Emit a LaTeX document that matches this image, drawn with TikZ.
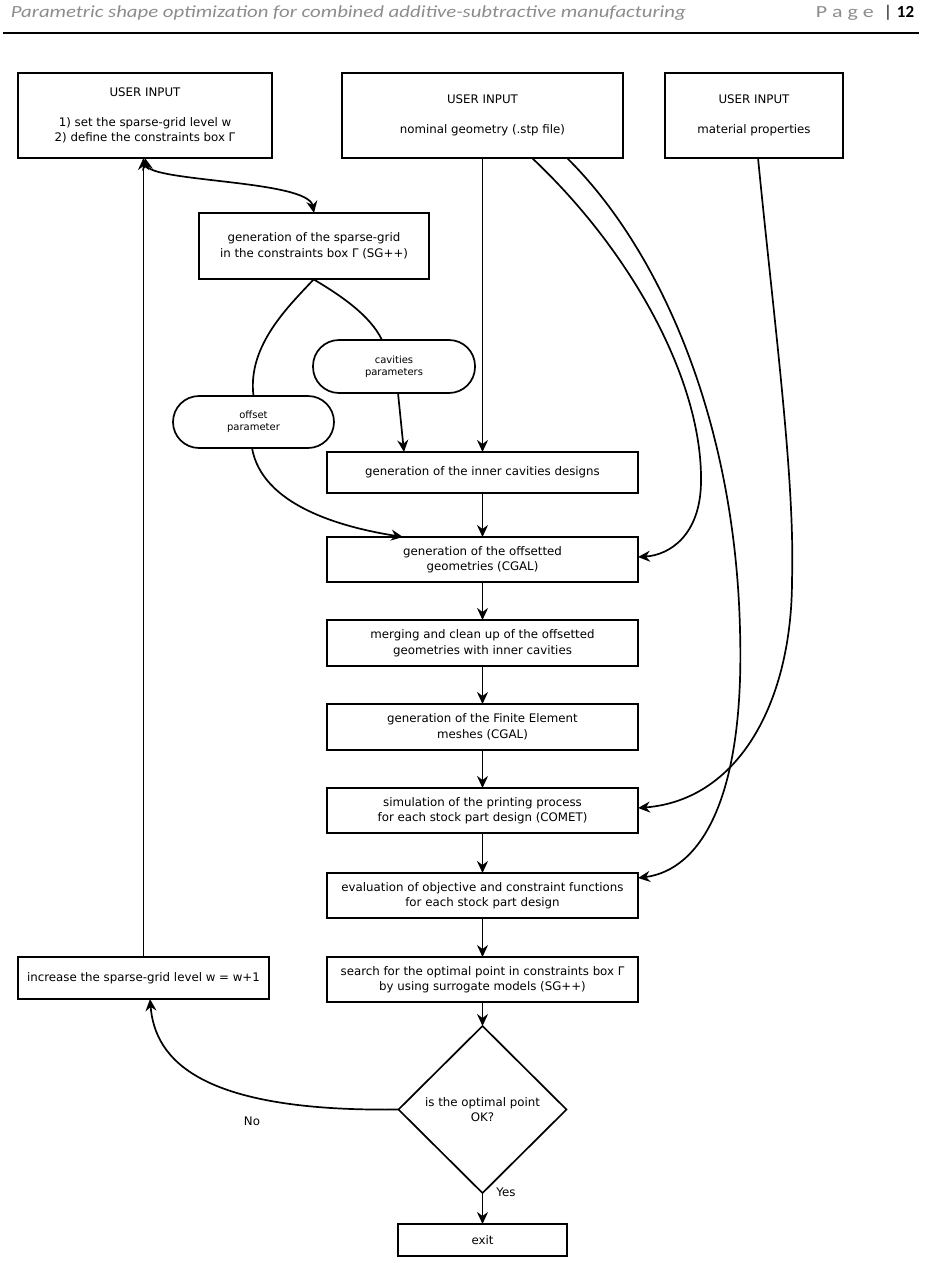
\documentclass[tikz,border=0pt]{standalone}
\usepackage{fontspec}
\setmainfont{DejaVu Sans}
\newfontfamily\hdr{Carlito}
\usetikzlibrary{shapes.geometric,arrows.meta}
\definecolor{hdrgray}{RGB}{140,140,140}
\begin{document}
\begin{tikzpicture}[x=1pt,y=-1pt,
  >={Stealth[length=12pt,width=11pt,inset=4pt]},
  line width=1.7pt,
  boxtxt/.style={font=\fontsize{11.8}{15.5}\selectfont},
  flowbox/.style={draw, line width=1.7pt, boxtxt, align=center, inner sep=0pt, outer sep=0pt},
  mainbox/.style={flowbox, minimum width=311pt, minimum height=46pt},
  pill/.style={draw, line width=1.7pt, rounded corners=26pt, align=center, inner sep=0pt, outer sep=0pt,
     minimum width=161pt, minimum height=53pt, font=\fontsize{10}{12.3}\selectfont},
  conn/.style={line width=1.7pt},
  lbl/.style={boxtxt, inner sep=0pt},
  hdrtxt/.style={inner sep=0pt, font=\hdr\fontsize{17}{20}\selectfont}
]
\useasboundingbox (0,0) rectangle (924,1263);

% header
\node[hdrtxt, anchor=base west, text=hdrgray, font=\hdr\itshape\fontsize{17}{20}\selectfont] (title) at (10,18)
  {\resizebox{675pt}{\height}{Parametric shape optimization for combined additive-subtractive manufacturing}};
\node[hdrtxt, anchor=base west, text=hdrgray] (pagew) at (815,18)
  {\resizebox{58pt}{\height}{P a g e}};
\node[hdrtxt, anchor=base] (bar) at (888,18) {|};
\node[hdrtxt, anchor=base east, font=\hdr\bfseries\fontsize{17}{20}\selectfont] (pagen) at (915,18) {12};
\coordinate (rl) at (3,33);
\coordinate (rr) at (919,33);
\draw[line width=1.2pt] (rl) -- (rr);

% user inputs
\node[flowbox, minimum width=254pt, minimum height=85pt] (ui1) at (145,115.5)
  {USER INPUT\\[14.5pt]1) set the sparse-grid level w\\2) define the constraints box Γ};
\node[flowbox, minimum width=281pt, minimum height=85pt] (ui2) at (482.5,115.5)
  {USER INPUT\\[14.5pt]nominal geometry (.stp file)};
\node[flowbox, minimum width=178pt, minimum height=85pt] (ui3) at (754,115.5)
  {USER INPUT\\[14.5pt]material properties};

% sparse grid
\node[flowbox, minimum width=230pt, minimum height=66pt] (sg) at (314,246)
  {generation of the sparse-grid\\in the constraints box Γ (SG++)};

% pills
\node[pill, minimum width=162pt] (cav) at (394,366.5) {cavities\\parameters};
\node[pill, minimum height=52pt] (off) at (253.5,422) {offset\\parameter};

% main column
\node[mainbox, minimum height=41pt] (inner) at (482.5,472.5) {generation of the inner cavities designs};
\node[mainbox, minimum height=45pt] (offs) at (482.5,559.5) {generation of the offsetted\\geometries (CGAL)};
\node[mainbox] (merge) at (482.5,643) {merging and clean up of the offsetted\\geometries with inner cavities};
\node[mainbox] (fe) at (482.5,727) {generation of the Finite Element\\meshes (CGAL)};
\node[mainbox, minimum height=45pt] (sim) at (482.5,810.5) {simulation of the printing process\\for each stock part design (COMET)};
\node[mainbox, minimum height=45pt] (eval) at (482.5,895.5) {evaluation of objective and constraint functions\\for each stock part design};
\node[mainbox, minimum height=45pt] (search) at (482.5,979.5) {search for the optimal point in constraints box Γ\\by using surrogate models (SG++)};

\node[flowbox, minimum width=251pt, minimum height=42pt] (incr) at (143.5,978) {increase the sparse-grid level w = w+1};

\node[draw, line width=1.7pt, diamond, boxtxt, align=center, inner sep=0pt, outer sep=0pt, aspect=1,
  minimum width=168pt, minimum height=167pt] (dec) at (482.5,1109.5) {is the optimal point\\OK?};
\node[flowbox, minimum width=169pt, minimum height=32pt] (exit) at (482.5,1240) {exit};

\node[lbl] (no) at (252,1121) {No};
\node[lbl] (yes) at (506,1192) {Yes};

% connectors
\draw[conn,<->] (ui1.south) .. controls (150,182) and (308,180) .. (sg.north);
\draw[conn,->] (incr.north) -- (incr.north |- ui1.south);
\draw[conn] (sg.south) .. controls (290,305) and (247,345) .. (off.north);
\draw[conn] ([xshift=-1pt]sg.south) .. controls (340,295) and (370,315) .. ([xshift=-12pt]cav.north);
\draw[conn,->] ([xshift=4pt]cav.south) -- ([xshift=-78.5pt]inner.north);
\draw[conn,->] ([xshift=-1.5pt]off.south) .. controls (262,505) and (340,527) .. ([xshift=-79.5pt]offs.north);
\draw[conn,->] (ui2.south) -- (inner.north);
\draw[conn,->] (inner) -- (offs);
\draw[conn,->] (offs) -- (merge);
\draw[conn,->] (merge) -- (fe);
\draw[conn,->] (fe) -- (sim);
\draw[conn,->] (sim) -- (eval);
\draw[conn,->] (eval) -- (search);
\draw[conn,->] (search) -- (dec);
\draw[conn,->] (dec) -- (exit);

\draw[conn,->] ([xshift=49.5pt]ui2.south) .. controls (630,250) and (703,380) .. (701,483)
   .. controls (700,535) and (670,555) .. ([yshift=2.5pt]offs.east);
\draw[conn,->] ([xshift=84.5pt]ui2.south) .. controls (660,250) and (735,420) .. (740,630)
   .. controls (745,800) and (700,870) .. ([yshift=17.5pt]eval.east);
\draw[conn,->] ([xshift=4pt]ui3.south) .. controls (775,330) and (795,480) .. (792,580)
   .. controls (792,700) and (740,800) .. ([yshift=2.5pt]sim.east);

\draw[conn,->] (dec.west) .. controls (200,1112) and (155,1060) .. ([xshift=6.5pt]incr.south);
\end{tikzpicture}
\end{document}
